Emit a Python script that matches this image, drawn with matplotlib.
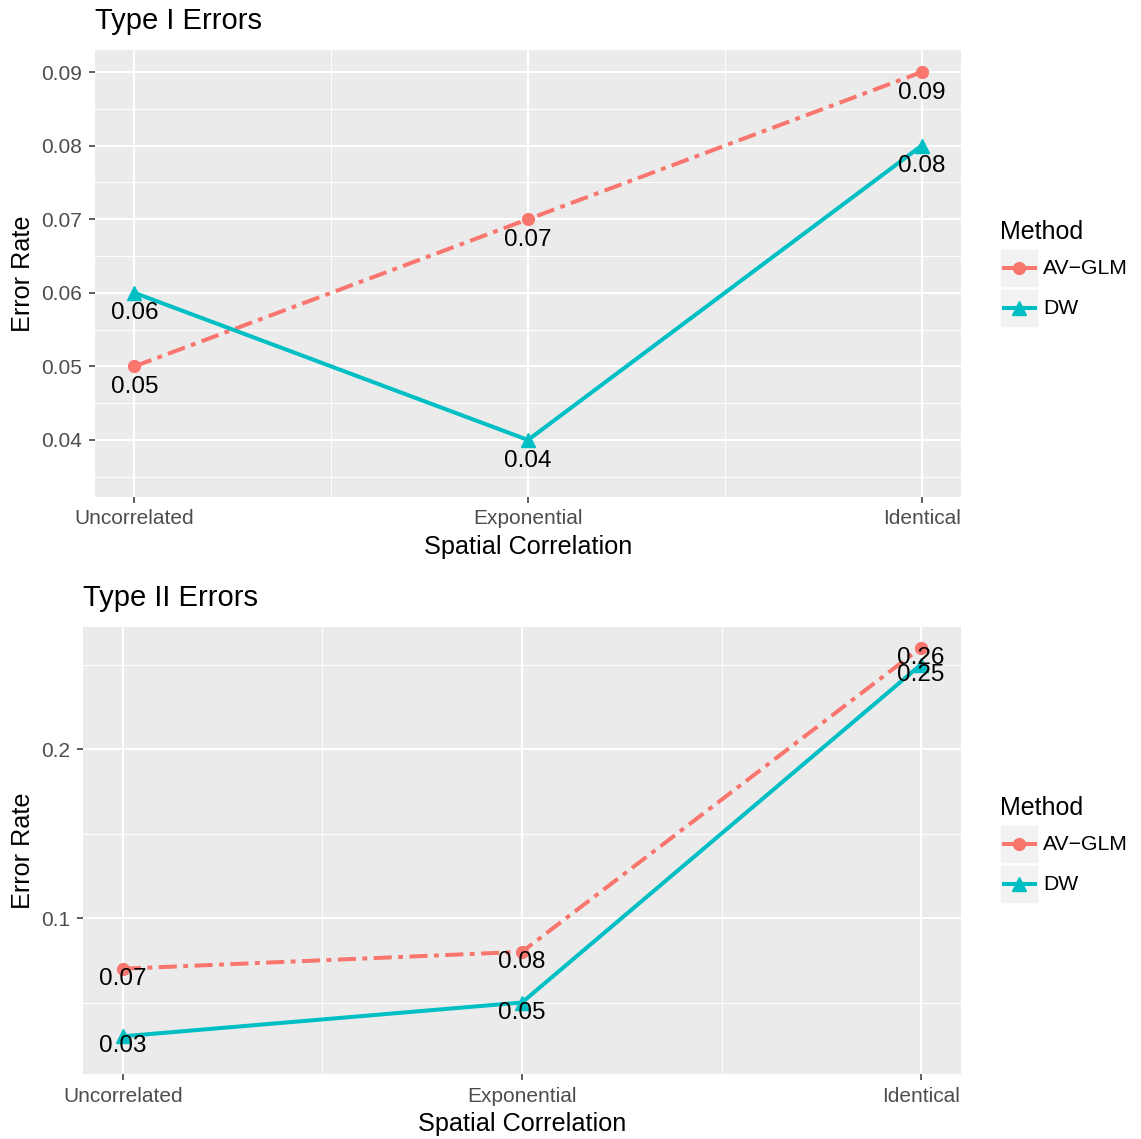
import numpy as np
import matplotlib
matplotlib.use("Agg")
import matplotlib.pyplot as plt
from matplotlib.lines import Line2D
from matplotlib.patches import Rectangle

plt.rcParams['font.family'] = ['Liberation Sans', 'DejaVu Sans']

categories = ["Uncorrelated", "Exponential", "Identical"]
methods = ["AV\u2212GLM", "DW"]

type1_av = [0.05, 0.07, 0.09]
type1_dw = [0.06, 0.04, 0.08]
type2_av = [0.07, 0.08, 0.26]
type2_dw = [0.03, 0.05, 0.25]

RED = "#F8766D"
CYAN = "#00BFC4"
W, H = 1141, 1139

fig = plt.figure(figsize=(W / 100, H / 100), dpi=100)


def fx(px):
    return px / W


def fy(py):
    return 1 - py / H


def panel(rect, title, av, dw, ylim, major, minor, fmt, label_off):
    ax = fig.add_axes(rect)
    ax.set_facecolor("#EBEBEB")
    for s in ax.spines.values():
        s.set_visible(False)
    x = np.arange(1, len(categories) + 1)
    ax.set_xlim(0.9, 3.1)
    ax.set_ylim(*ylim)
    ax.set_xticks(x)
    ax.set_xticklabels(categories)
    ax.set_xticks([1.5, 2.5], minor=True)
    ax.set_yticks(major)
    ax.set_yticklabels([fmt % v for v in major])
    ax.set_yticks(minor, minor=True)
    ax.grid(which="major", color="white", lw=1.5)
    ax.grid(which="minor", color="white", lw=0.7)
    ax.set_axisbelow(True)
    ax.tick_params(which="major", length=4, width=1.1, color="#333333",
                   labelsize=15, labelcolor="#4D4D4D", pad=5)
    ax.tick_params(which="minor", length=0)

    l1, = ax.plot(x, av, color=RED, lw=2.9, marker="o", ms=8.5)
    l1.set_dashes((4.5, 1.6, 1.2, 1.6))
    ax.plot(x, dw, color=CYAN, lw=2.9, marker="^", ms=9.5)

    for xi, v in zip(x, av):
        ax.text(xi, v - label_off, "%.2f" % v, ha="center", va="center", fontsize=17.5)
    for xi, v in zip(x, dw):
        ax.text(xi, v - label_off, "%.2f" % v, ha="center", va="center", fontsize=17.5)

    ax.set_xlabel("Spatial Correlation", fontsize=18.2, labelpad=4.5)
    ax.set_ylabel("Error Rate", fontsize=18.2, labelpad=4.5)
    ax.set_title(title, loc="left", fontsize=21, pad=15)
    return ax


panel([fx(95), fy(497), fx(961) - fx(95), fy(50) - fy(497)], "Type I Errors",
      type1_av, type1_dw, (0.03225, 0.0930),
      [0.04, 0.05, 0.06, 0.07, 0.08, 0.09],
      [0.035, 0.045, 0.055, 0.065, 0.075, 0.085], "%.2f", 0.0028)

panel([fx(83), fy(1074), fx(961) - fx(83), fy(627) - fy(1074)], "Type II Errors",
      type2_av, type2_dw, (0.0077, 0.2722),
      [0.1, 0.2], [0.05, 0.15, 0.25], "%.1f", 0.0060)


def legend(top):
    fig.text(fx(1000), fy(top + 232), "Method", fontsize=18, ha="left", va="center")
    for i, (name, col, mk) in enumerate([(methods[0], RED, "o"),
                                         (methods[1], CYAN, "^")]):
        cy = top + 268 + 40 * i
        fig.patches.append(Rectangle((fx(1001), fy(cy + 18)), fx(36), 36 / H,
                                     transform=fig.transFigure, color="#F2F2F2"))
        fig.lines.append(Line2D([fx(1004), fx(1035)], [fy(cy), fy(cy)],
                                transform=fig.transFigure, color=col, lw=2.9))
        fig.lines.append(Line2D([fx(1019)], [fy(cy)], transform=fig.transFigure,
                                color=col, marker=mk, ms=8.5 if mk == "o" else 9.5))
        fig.text(fx(1043), fy(cy), name, fontsize=15.2, ha="left", va="center")


legend(0)
legend(576)

fig.savefig("out.png", dpi=100)
